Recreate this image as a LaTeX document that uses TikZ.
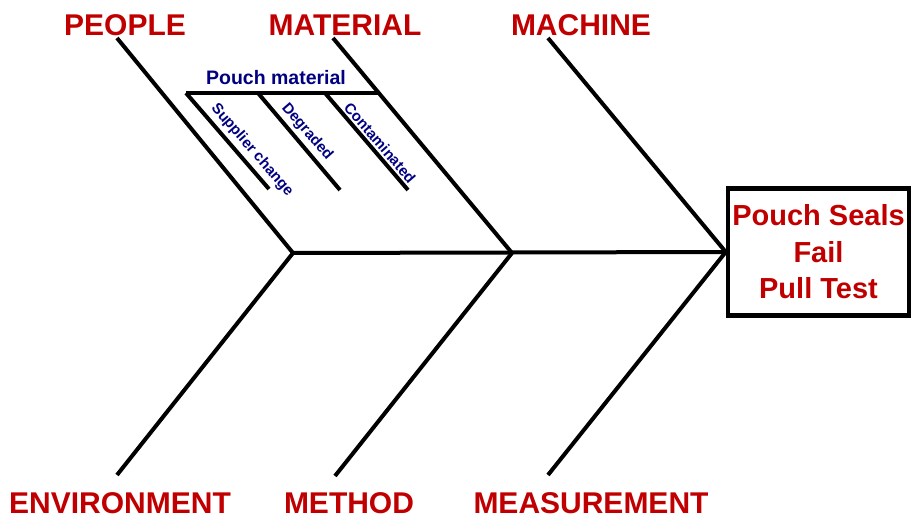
\documentclass[tikz,border=0pt]{standalone}
\usepackage{fontspec}
\setmainfont{Liberation Sans}
\definecolor{catred}{RGB}{192,0,0}
\definecolor{subblue}{RGB}{0,0,128}
\begin{document}
\begin{tikzpicture}[x=1pt,y=-1pt,
  bone/.style={line width=4pt,black},
  catlabel/.style={font=\fontsize{30}{30}\selectfont\bfseries,text=catred,inner sep=0pt},
  sublabel/.style={font=\fontsize{15}{16}\selectfont\bfseries,text=subblue,inner sep=0pt,rotate=-49},
  effectbox/.style={draw,line width=4.5pt,minimum width=181pt,minimum height=127pt,inner sep=0pt,
    font=\fontsize{29}{36.5}\selectfont\bfseries,text=catred,align=center}]
\useasboundingbox (0,0) rectangle (911,518);
% head
\node[effectbox] (head) at (818.5,252) {Pouch Seals\\Fail\\Pull Test};
% spine junctions
\coordinate (j1) at (293,253);
\coordinate (j2) at (512,253);
\coordinate (j3) at (head.west);
% labels
\node[catlabel] (people) at (125,25) {PEOPLE};
\node[catlabel] (material) at (345,25) {MATERIAL};
\node[catlabel] (machine) at (581,25) {MACHINE};
\node[catlabel] (environment) at (120,503) {ENVIRONMENT};
\node[catlabel] (method) at (349,503) {METHOD};
\node[catlabel] (measurement) at (591,503) {MEASUREMENT};
% branch ends
\coordinate (pe) at (117,38);
\coordinate (ma) at (333,38);
\coordinate (mc) at (548,38);
\coordinate (en) at (117,475);
\coordinate (me) at (335,476);
\coordinate (ms) at (548,475);
% spine
\draw[bone] (j1) -- (j3);
% branches
\draw[bone] (pe) -- (j1);
\draw[bone] (ma) -- (j2);
\draw[bone] (mc) -- (j3);
\draw[bone] (en) -- (j1);
\draw[bone] (me) -- (j2);
\draw[bone] (ms) -- (j3);
% sub branch
\coordinate (pm0) at (186,93);
\coordinate (pm1) at (379,93);
\draw[bone] (pm0) -- (pm1);
\node[font=\fontsize{19.5}{20}\selectfont\bfseries,text=subblue,inner sep=0pt] (pmlabel) at (276,78) {Pouch material};
\coordinate (s1a) at (186,93);
\coordinate (s1b) at (269,189);
\coordinate (s2a) at (258,93);
\coordinate (s2b) at (340,190);
\coordinate (s3a) at (325,93);
\coordinate (s3b) at (408,190);
\draw[bone] (s1a) -- (s1b);
\draw[bone] (s2a) -- (s2b);
\draw[bone] (s3a) -- (s3b);
\node[sublabel] (supp) at (252,150) {Supplier change};
\node[sublabel] (degr) at (307,132) {Degraded};
\node[sublabel] (cont) at (380,143) {Contaminated};
\end{tikzpicture}
\end{document}
